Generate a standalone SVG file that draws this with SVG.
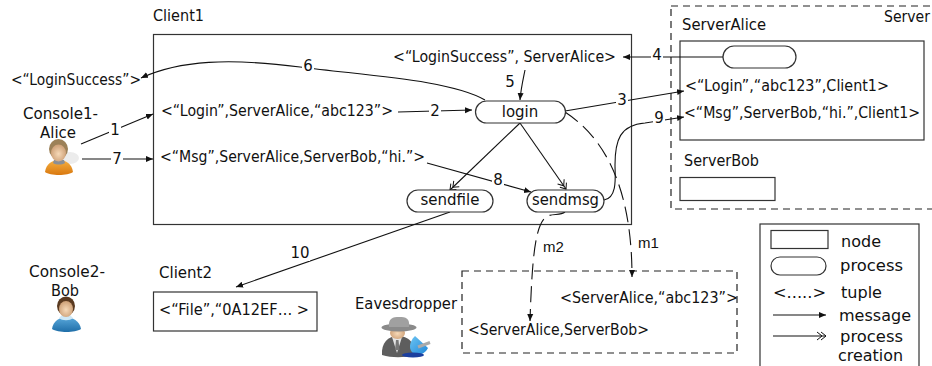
<svg xmlns="http://www.w3.org/2000/svg" width="932" height="366" viewBox="0 0 932 366">
<style>
text{font-family:"DejaVu Sans",sans-serif;font-size:15px;fill:#111}
.m{text-anchor:middle}
.b{fill:#fff;stroke:#333;stroke-width:1.2}
.d{fill:none;stroke:#222;stroke-width:1.2;stroke-dasharray:7 5}
.c{fill:none;stroke:#111;stroke-width:1.1}
.a{marker-end:url(#arr)}
.p{marker-end:url(#dbl)}
.ds{stroke-dasharray:16 7}
.lb{fill:#fff;stroke:none}
</style>
<defs>
<marker id="arr" markerWidth="8" markerHeight="8" refX="7" refY="3.5" orient="auto" markerUnits="userSpaceOnUse"><path d="M0,0.5L7,3.5L0,6.5z" fill="#111"/></marker>
<marker id="dbl" markerWidth="12" markerHeight="10" refX="10" refY="5" orient="auto" markerUnits="userSpaceOnUse"><path d="M1,1L6,5L1,9M5,1L10,5L5,9" fill="none" stroke="#111" stroke-width="1"/></marker>
<radialGradient id="skin" cx=".5" cy=".55" r=".6"><stop offset="0" stop-color="#f6d9b8"/><stop offset="1" stop-color="#c99a70"/></radialGradient>
<linearGradient id="org" x1="0" y1="0" x2="0" y2="1"><stop offset="0" stop-color="#f5b041"/><stop offset="1" stop-color="#d9780f"/></linearGradient>
<linearGradient id="blu" x1="0" y1="0" x2="0" y2="1"><stop offset="0" stop-color="#5aa9dc"/><stop offset="1" stop-color="#1f6ea8"/></linearGradient>
<linearGradient id="dish" x1="0" y1="0" x2="1" y2="1"><stop offset="0" stop-color="#6cc4f2"/><stop offset="1" stop-color="#1f86d8"/></linearGradient>
</defs>

<g id="client1"><rect class="b" x="153.5" y="34.5" width="478" height="190"/><text x="153" y="21" textLength="51" lengthAdjust="spacingAndGlyphs">Client1</text></g>
<g id="server"><rect class="d" x="671" y="6" width="270" height="203"/><text x="884" y="22" textLength="46" lengthAdjust="spacingAndGlyphs">Server</text></g>
<g id="serverAlice"><rect class="b" x="680" y="41" width="244" height="99"/><text x="682" y="30" textLength="84" lengthAdjust="spacingAndGlyphs">ServerAlice</text></g>
<g id="serverAlicePill"><rect class="b" x="723" y="46" width="73" height="22" rx="11"/></g>
<g id="serverBob"><rect class="b" x="680" y="177.500" width="95" height="23"/><text x="684" y="166" textLength="75" lengthAdjust="spacingAndGlyphs">ServerBob</text></g>
<g id="client2"><rect class="b" x="153.500" y="292" width="163.500" height="39"/><text x="159" y="278" textLength="53" lengthAdjust="spacingAndGlyphs">Client2</text><text x="159" y="315" textLength="150" lengthAdjust="spacingAndGlyphs">&lt;“File”,“0A12EF…  &gt;</text></g>
<g id="eavesBox"><rect class="d" x="462" y="271" width="275" height="82"/></g>

<g id="connectors">
<path class="c a" d="M485,100C450,80 370,76 300,67C230,58 180,60 141,78"/>
<path class="c a" d="M81,144L153,114"/>
<path class="c a" d="M82,159L153,159"/>
<path class="c a" d="M398,112L472,110"/>
<path class="c a" d="M525,70C523,80 521,88 520,100"/>
<path class="c a" d="M565,111L684,91"/>
<path class="c a" d="M723,57L623,57"/>
<path class="c a" d="M427,163L531,192"/>
<path class="c a" d="M604,200C618,198 615,175 615,165C615,140 620,125 645,123L684,117"/>
<path class="c p" d="M520,123L450,190"/>
<path class="c p" d="M520,123L566,189"/>
<path class="c a" d="M450,212L236,287"/>
<path class="c ds a" d="M565,112C600,135 632,180 632,277"/>
<path class="c ds a" d="M565,212C560,216 552,213 546,217C535,225 532,260 530,321"/>
</g>

<g id="labels">
<rect class="lb" x="109" y="122" width="12" height="16"/><text class="m" x="115" y="135">1</text>
<rect class="lb" x="429" y="103" width="12" height="16"/><text class="m" x="435" y="116">2</text>
<rect class="lb" x="616" y="92" width="12" height="16"/><text class="m" x="622" y="105">3</text>
<rect class="lb" x="651" y="49" width="12" height="16"/><text class="m" x="657" y="60">4</text>
<text class="m" x="510" y="87">5</text>
<rect class="lb" x="302" y="58" width="12" height="16"/><text class="m" x="308" y="71">6</text>
<rect class="lb" x="111" y="151" width="12" height="16"/><text class="m" x="117" y="164">7</text>
<rect class="lb" x="492" y="172" width="12" height="16"/><text class="m" x="498" y="185">8</text>
<rect class="lb" x="653" y="110" width="12" height="16"/><text class="m" x="659" y="123">9</text>
<rect class="lb" x="290" y="245" width="20" height="16"/><text class="m" x="300" y="258">10</text>
<text x="543" y="252" style="font-family:'Liberation Sans',sans-serif">m2</text>
<text x="638" y="248" style="font-family:'Liberation Sans',sans-serif">m1</text>
</g>

<g id="tuples">
<text x="11" y="85" textLength="130" lengthAdjust="spacingAndGlyphs">&lt;“LoginSuccess”&gt;</text>
<text x="161" y="116" textLength="232" lengthAdjust="spacingAndGlyphs">&lt;“Login”,ServerAlice,“abc123”&gt;</text>
<text x="160" y="162" textLength="265" lengthAdjust="spacingAndGlyphs">&lt;“Msg”,ServerAlice,ServerBob,“hi.”&gt;</text>
<text x="393" y="62" textLength="223" lengthAdjust="spacingAndGlyphs">&lt;“LoginSuccess”, ServerAlice&gt;</text>
<text x="685" y="91" textLength="204" lengthAdjust="spacingAndGlyphs">&lt;“Login”,“abc123”,Client1&gt;</text>
<text x="684" y="118" textLength="236" lengthAdjust="spacingAndGlyphs">&lt;“Msg”,ServerBob,“hi.”,Client1&gt;</text>
<text x="560" y="303" textLength="178" lengthAdjust="spacingAndGlyphs">&lt;ServerAlice,“abc123”&gt;</text>
<text x="468" y="335" textLength="181" lengthAdjust="spacingAndGlyphs">&lt;ServerAlice,ServerBob&gt;</text>
</g>

<g id="login"><rect class="b" x="475.500" y="101" width="90" height="22" rx="11"/><text class="m" x="520" y="117">login</text></g>
<g id="sendfile"><rect class="b" x="407" y="190" width="86" height="22" rx="11"/><text class="m" x="450" y="205" textLength="59" lengthAdjust="spacingAndGlyphs">sendfile</text></g>
<g id="sendmsg"><rect class="b" x="527" y="190" width="77" height="22" rx="11"/><text class="m" x="565.500" y="205" textLength="67" lengthAdjust="spacingAndGlyphs">sendmsg</text></g>

<g id="console1">
<text x="23" y="119" textLength="75" lengthAdjust="spacingAndGlyphs">Console1-</text><text x="40" y="138" textLength="36" lengthAdjust="spacingAndGlyphs">Alice</text>
<ellipse cx="70" cy="158" rx="9" ry="6" fill="#e4e4e4" opacity=".7"/>
<path d="M45,172C46,164 52,160 59,160C66,160 72,164 73,172C68,176 50,176 45,172z" fill="url(#org)"/>
<path d="M53,163C56,165 62,165 65,163L64,160H54z" fill="#8a8f96"/>
<ellipse cx="58.500" cy="149" rx="9.500" ry="10" fill="#9c8158"/>
<ellipse cx="58.500" cy="153" rx="7.500" ry="8.500" fill="url(#skin)"/>
</g>
<g id="console2">
<text x="29" y="277" textLength="76" lengthAdjust="spacingAndGlyphs">Console2-</text><text x="51" y="296" textLength="28" lengthAdjust="spacingAndGlyphs">Bob</text>
<path d="M52,329C53,321 60,317 66,317C72,317 80,321 81,329C75,333 58,333 52,329z" fill="url(#blu)"/>
<path d="M59,318C62,321 70,321 73,318L70,315H62z" fill="#cfe8f6"/>
<ellipse cx="66" cy="306" rx="9" ry="9.500" fill="#5a3a20"/>
<ellipse cx="66" cy="309" rx="7" ry="8" fill="url(#skin)"/>
</g>
<g id="eavesdropper">
<text x="355" y="309" textLength="102" lengthAdjust="spacingAndGlyphs">Eavesdropper</text>
<path d="M382,355C381,343 388,336 398,336C408,336 416,343 414,355C404,358 392,358 382,355z" fill="#5e5e5e"/>
<path d="M392,337L397,353L402,337z" fill="#e4e4e4"/>
<path d="M396,340h2.500l1,10h-4.500z" fill="#777"/>
<ellipse cx="397.500" cy="333" rx="7.500" ry="6" fill="url(#skin)"/>
<ellipse cx="399" cy="327.500" rx="17.500" ry="4" fill="#8a8a8a"/>
<path d="M389,327C388,318 393,317 399,317C406,317 410,318 409,327z" fill="#a0a0a0"/>
<path d="M415,336C409,342 408,350 414,354C419,356 425,354 428,348z" fill="url(#dish)"/>
<ellipse cx="413" cy="355" rx="11" ry="2.500" fill="#1c3f9e"/>
<path d="M418,347L430,342.500" stroke="#aaa" stroke-width="3"/>
</g>

<g id="legend">
<rect class="b" x="760" y="224" width="159" height="150"/>
<rect class="b" x="771" y="230.500" width="57" height="18"/>
<rect class="b" x="771" y="257" width="55" height="18" rx="9"/>
<text x="841" y="247" textLength="40" lengthAdjust="spacingAndGlyphs">node</text><text x="840" y="271" textLength="63" lengthAdjust="spacingAndGlyphs">process</text>
<text x="773" y="298" textLength="53" lengthAdjust="spacingAndGlyphs">&lt;.....&gt;</text><text x="841" y="298" textLength="41" lengthAdjust="spacingAndGlyphs">tuple</text>
<path class="c a" d="M773,315L826,315"/><text x="839" y="321" textLength="72" lengthAdjust="spacingAndGlyphs">message</text>
<path class="c p" d="M773,336L826,336"/><text x="840" y="342" textLength="63" lengthAdjust="spacingAndGlyphs">process</text><text x="838" y="361" textLength="65" lengthAdjust="spacingAndGlyphs">creation</text>
</g>
</svg>
